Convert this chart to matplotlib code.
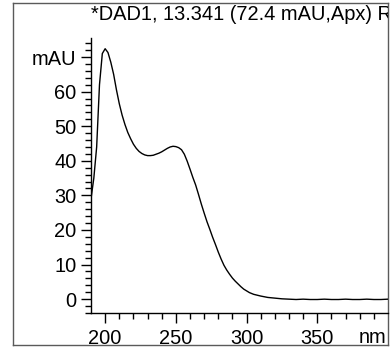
import matplotlib
matplotlib.use('Agg')
import matplotlib.pyplot as plt

# ── Spectrum data (DAD1 at 13.341 min) ─────────────────────────────────────
wavelength = [190, 192, 194, 196, 198, 200, 202, 204, 206, 208, 210, 212, 214,
              216, 218, 220, 222, 224, 226, 228, 230, 232, 234, 236, 238, 240,
              242, 244, 246, 248, 250, 252, 254, 256, 258, 260, 262, 264, 266,
              268, 270, 272, 274, 276, 278, 280, 282, 284, 286, 288, 290, 292,
              294, 296, 298, 300, 302, 305, 310, 315, 320, 325, 330, 335, 340,
              345, 350, 355, 360, 365, 370, 375, 380, 385, 390, 395, 400]
absorbance = [29.0, 35.0, 44.0, 62.0, 71.0, 72.4, 71.3, 68.5, 65.0, 60.5, 56.5,
              53.2, 50.5, 48.2, 46.4, 44.8, 43.6, 42.7, 42.1, 41.7, 41.5, 41.5,
              41.6, 41.9, 42.2, 42.6, 43.1, 43.6, 44.0, 44.2, 44.1, 43.8, 43.2,
              41.9, 39.9, 37.6, 35.2, 33.0, 30.3, 27.5, 24.9, 22.4, 20.2, 17.9,
              15.8, 13.6, 11.6, 9.8, 8.4, 7.2, 6.1, 5.2, 4.4, 3.6, 2.9, 2.4, 1.9,
              1.4, 0.9, 0.5, 0.3, 0.1, 0.0, -0.1, 0.0, -0.1, -0.1, 0.0, -0.1,
              -0.1, 0.0, -0.1, -0.1, 0.0, -0.1, -0.1, 0.0]

title = "*DAD1, 13.341 (72.4 mAU,Apx) Ref"
y_major = [0, 10, 20, 30, 40, 50, 60, 70]
y_labels = ["0", "10", "20", "30", "40", "50", "60", "mAU"]
x_major = [200, 250, 300, 350]

W, H = 392, 350
FRAME_C = "#5a5a5a"
FS = 14.4

plt.rcParams.update({
    "font.family": ["Liberation Sans", "DejaVu Sans"],
    "font.size": FS,
    "axes.linewidth": 1.0,
})

fig = plt.figure(figsize=(W / 100, H / 100), dpi=100)

# outer frame, also clips the header text
frame = fig.add_axes([13 / W, 1 - 345 / H, (388 - 13) / W, (345 - 3) / H])
frame.set_xticks([]); frame.set_yticks([])
frame.set_xlim(0, 1); frame.set_ylim(0, 1)
for s in frame.spines.values():
    s.set_color(FRAME_C)
    s.set_linewidth(1.0)
frame.text((91 - 13) / (388 - 13), (345 - 20) / (345 - 3), title,
           ha='left', va='baseline', fontsize=FS, clip_on=True)

# plot area
ax = fig.add_axes([91 / W, 1 - 313 / H, (388 - 91) / W, (313 - 38) / H])
ax.patch.set_alpha(0)
ax.plot(wavelength, absorbance, color='black', lw=1.0)

ax.set_xlim(190, 400)
ax.set_ylim(-4, 75.5)
ax.spines['top'].set_visible(False)
ax.spines['right'].set_visible(False)

ax.set_yticks(y_major)
ax.set_yticklabels(y_labels)
ax.set_yticks([v for v in range(-4, 76, 2) if v % 10], minor=True)
ax.set_xticks(x_major)
ax.set_xticks([v for v in range(210, 400, 10) if v % 50], minor=True)

ax.tick_params(axis='both', which='major', length=7.5, width=1.0, pad=3)
ax.tick_params(axis='both', which='minor', length=4.2, width=1.0)
ax.tick_params(axis='x', which='major', pad=4)

ax.annotate("nm", xy=(1.0, 0), xycoords='axes fraction',
            xytext=(-1, -10.8), textcoords='offset points',
            ha='right', va='top', fontsize=FS)

fig.savefig("out.png", dpi=100)
